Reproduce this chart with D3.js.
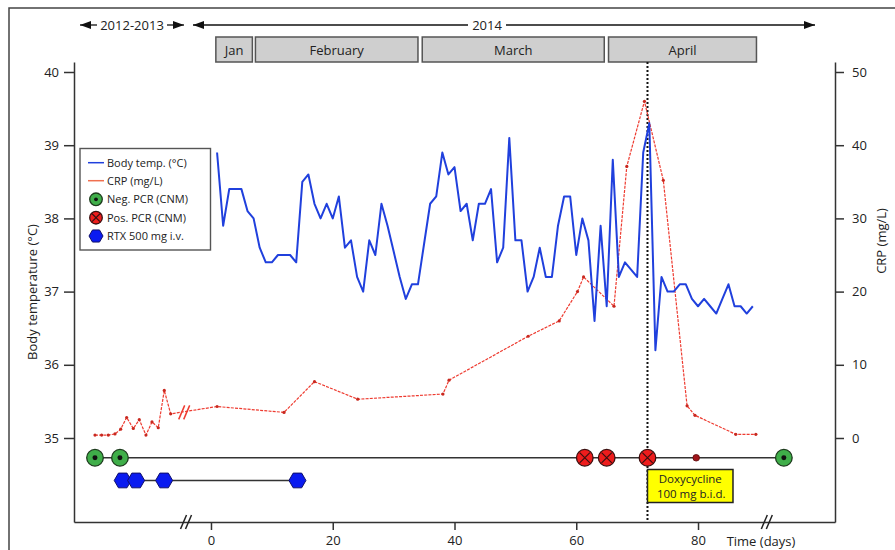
<!DOCTYPE html>
<html>
<head>
<meta charset="utf-8">
<script src="https://cdn.jsdelivr.net/npm/d3@7"></script>
<style>
  body { margin: 0; background: #fff; }
  svg { font-family: "Open Sans", "DejaVu Sans", sans-serif; }
</style>
</head>
<body>
<div id="chart"></div>
<script>
// body temperature, one reading per day (2014)
const tempDays = d3.range(1, 90);
const tempValues = [38.9, 37.9, 38.4, 38.4, 38.4, 38.1, 38.0, 37.6, 37.4, 37.4,
  37.5, 37.5, 37.5, 37.4, 38.5, 38.6, 38.2, 38.0, 38.2, 38.0,
  38.3, 37.6, 37.7, 37.2, 37.0, 37.7, 37.5, 38.2, 37.9, 37.55,
  37.2, 36.9, 37.1, 37.1, 37.65, 38.2, 38.3, 38.9, 38.6, 38.7,
  38.1, 38.2, 37.7, 38.2, 38.2, 38.4, 37.4, 37.6, 39.1, 37.7,
  37.7, 37.0, 37.2, 37.6, 37.2, 37.2, 37.9, 38.3, 38.3, 37.5,
  38.0, 37.7, 36.6, 37.9, 36.8, 38.8, 37.2, 37.4, 37.3, 37.2,
  38.9, 39.3, 36.2, 37.2, 37.0, 37.0, 37.1, 37.1, 36.9, 36.8,
  36.9, 36.8, 36.7, 36.9, 37.1, 36.8, 36.8, 36.7, 36.8];

// CRP (negative days = 2012-2013 samples, before the axis break)
const crpDays = [-19.05, -17.96, -16.87, -15.77, -14.83, -13.85, -12.76, -11.78, -10.68, -9.69, -8.66, -7.67, -6.62,
  1.0, 12.0, 17.0, 24.1, 38.1, 39.1, 52.1, 57.2, 60.2, 61.2, 66.2, 68.3, 71.2, 74.3, 78.2, 79.5, 86.2, 89.5];
const crpValues = [0.4, 0.4, 0.4, 0.55, 1.2, 2.8, 1.3, 2.5, 0.4, 2.2, 1.4, 6.5, 3.3,
  4.3, 3.5, 7.7, 5.3, 6.0, 7.9, 13.9, 16.0, 20.0, 22.0, 18.0, 37.1, 46.0, 35.2, 4.4, 3.1, 0.5, 0.5];

// events
const negPcrDays = [-19.05, -14.95, 94.1];
const posPcrDays = [61.4, 65.0, 71.7];
const smallDotDays = [79.7];
const rtxDays = [-14.5, -12.3, -7.7, 14.2];
const doxyDay = 71.7;

// month bars
const months = ["Jan", "February", "March", "April"];
const monthStart = [0.8, 7.3, 34.7, 65.3];
const monthEnd = [6.8, 34.0, 64.6, 89.6];

const tempTicks = [35, 36, 37, 38, 39, 40];
const crpTicks = [0, 10, 20, 30, 40, 50];
const dayTicks = [0, 20, 40, 60, 80];

const W = 895, H = 550;
const pLeft = 74, pRight = 835, pTop = 62, pBottom = 522;

const svg = d3.select("#chart").append("svg")
  .attr("width", W).attr("height", H);

// outer frame
svg.append("rect").attr("x", 9).attr("y", 8).attr("width", 900).attr("height", 560)
  .attr("fill", "none").attr("stroke", "#444").attr("stroke-width", 1.5);

const x = d3.scaleLinear().domain([-22.5, 102.5]).range([pLeft, pRight]);
const yT = d3.scaleLinear().domain([35 - 84 / 73.2, 40 + 10 / 73.2]).range([pBottom, pTop]);
const yC = d3.scaleLinear().domain([(-84 / 73.2) * 10, (5 + 10 / 73.2) * 10]).range([pBottom, pTop]);

const pcrLevel = 34.73, rtxLevel = 34.42;

// axes
svg.append("g").attr("transform", `translate(${pLeft},0)`)
  .call(d3.axisLeft(yT).tickValues(tempTicks).tickFormat(d3.format("d"))
    .tickSize(10).tickSizeOuter(0).tickPadding(5));
svg.append("g").attr("transform", `translate(${pRight},0)`)
  .call(d3.axisRight(yC).tickValues(crpTicks).tickSize(9).tickSizeOuter(0).tickPadding(8));
svg.append("g").attr("transform", `translate(0,${pBottom})`)
  .call(d3.axisBottom(x).tickValues(dayTicks).tickSize(8).tickSizeOuter(0).tickPadding(6));

svg.selectAll(".domain, .tick line").attr("stroke", "#333").attr("stroke-width", 1.5);
svg.selectAll(".tick text").attr("font-size", 13).attr("fill", "#222")
  .attr("font-family", "'Open Sans', sans-serif");

// axis titles
svg.append("text").attr("transform", `translate(37,292) rotate(-90)`)
  .attr("text-anchor", "middle").attr("font-size", 13).attr("fill", "#222")
  .text("Body temperature (°C)");
svg.append("text").attr("transform", `translate(886,241) rotate(-90)`)
  .attr("text-anchor", "middle").attr("font-size", 13).attr("fill", "#222")
  .text("CRP (mg/L)");
svg.append("text").attr("x", 761).attr("y", 546)
  .attr("text-anchor", "middle").attr("font-size", 13).attr("fill", "#222")
  .text("Time (days)");

// axis break marks
function breakMark(cx, cy, color) {
  [-2.5, 2.5].forEach(o => {
    svg.append("line")
      .attr("x1", cx + o - 3).attr("y1", cy + 7)
      .attr("x2", cx + o + 3).attr("y2", cy - 7)
      .attr("stroke", color).attr("stroke-width", 1.5);
  });
}
breakMark(x(-4.1), pBottom, "#222");
breakMark(x(91.3), pBottom, "#222");

// year arrows
const arrowY = 25;
function arrowHead(px, dir) {
  svg.append("path")
    .attr("d", `M${px},${arrowY} L${px - dir * 11},${arrowY - 4} L${px - dir * 11},${arrowY + 4} Z`)
    .attr("fill", "#111");
}
function hline(x1, x2) {
  svg.append("line").attr("x1", x1).attr("x2", x2).attr("y1", arrowY).attr("y2", arrowY)
    .attr("stroke", "#111").attr("stroke-width", 1.3);
}
hline(80, 97); arrowHead(80, -1);
hline(167, 184); arrowHead(184, 1);
svg.append("text").attr("x", 132).attr("y", arrowY + 5).attr("text-anchor", "middle")
  .attr("font-size", 13).attr("fill", "#222").text("2012-2013");
hline(193, 468); arrowHead(193, -1);
hline(506, 815); arrowHead(815, 1);
svg.append("text").attr("x", 487).attr("y", arrowY + 5).attr("text-anchor", "middle")
  .attr("font-size", 13).attr("fill", "#222").text("2014");

// month boxes
const mg = svg.append("g");
mg.selectAll("rect").data(months).join("rect")
  .attr("x", (d, i) => x(monthStart[i]))
  .attr("width", (d, i) => x(monthEnd[i]) - x(monthStart[i]))
  .attr("y", 37).attr("height", 25)
  .attr("fill", "#cfcfcf").attr("stroke", "#555").attr("stroke-width", 1.5);
mg.selectAll("text").data(months).join("text")
  .attr("x", (d, i) => (x(monthStart[i]) + x(monthEnd[i])) / 2)
  .attr("y", 54.5).attr("text-anchor", "middle")
  .attr("font-size", 13).attr("fill", "#222").text(d => d);

// doxycycline start line
svg.append("line").attr("x1", x(doxyDay)).attr("x2", x(doxyDay))
  .attr("y1", pTop).attr("y2", pBottom)
  .attr("stroke", "#111").attr("stroke-width", 2).attr("stroke-dasharray", "2,2");

// CRP line
const crp = crpDays.map((d, i) => ({day: d, v: crpValues[i]}));
svg.append("path").datum(crp)
  .attr("fill", "none").attr("stroke", "#ee3b30").attr("stroke-width", 1.2)
  .attr("stroke-dasharray", "3,1.2")
  .attr("d", d3.line().x(d => x(d.day)).y(d => yC(d.v)));
svg.selectAll(".crpdot").data(crp).join("circle")
  .attr("cx", d => x(d.day)).attr("cy", d => yC(d.v)).attr("r", 1.6)
  .attr("fill", "#c8281f");
breakMark(x(-4.4), yC(3.5), "#ee3b30");

// temperature line
const temp = tempDays.map((d, i) => ({day: d, v: tempValues[i]}));
svg.append("path").datum(temp)
  .attr("fill", "none").attr("stroke", "#2040dd").attr("stroke-width", 2)
  .attr("stroke-linejoin", "round")
  .attr("d", d3.line().x(d => x(d.day)).y(d => yT(d.v)));

// event rows
svg.append("line").attr("x1", x(d3.min(negPcrDays))).attr("x2", x(d3.max(negPcrDays)))
  .attr("y1", yT(pcrLevel)).attr("y2", yT(pcrLevel))
  .attr("stroke", "#333").attr("stroke-width", 1.5);
svg.append("line").attr("x1", x(d3.min(rtxDays))).attr("x2", x(d3.max(rtxDays)))
  .attr("y1", yT(rtxLevel)).attr("y2", yT(rtxLevel))
  .attr("stroke", "#333").attr("stroke-width", 1.5);

function hexPath(r) {
  return d3.range(6).map(k => {
    const a = Math.PI / 3 * k;
    return [r * Math.cos(a), r * Math.sin(a)];
  }).map((p, k) => (k ? "L" : "M") + p[0].toFixed(2) + "," + p[1].toFixed(2)).join("") + "Z";
}
function negPcr(g, r) {
  g.append("circle").attr("r", r).attr("fill", "#3fae49").attr("stroke", "#1d3a1d").attr("stroke-width", 1.3);
  g.append("circle").attr("r", r * 0.3).attr("fill", "#111");
}
function posPcr(g, r) {
  g.append("circle").attr("r", r).attr("fill", "#ee1c1c").attr("stroke", "#3a1010").attr("stroke-width", 1.3);
  const k = r * 0.62;
  g.append("path").attr("d", `M${-k},${-k}L${k},${k}M${-k},${k}L${k},${-k}`)
    .attr("stroke", "#3a1010").attr("stroke-width", 1.2);
}
function rtx(g, r) {
  g.append("path").attr("d", hexPath(r)).attr("fill", "#0a1bf0")
    .attr("stroke", "#10106a").attr("stroke-width", 1);
}

negPcrDays.forEach(d => negPcr(svg.append("g").attr("transform", `translate(${x(d)},${yT(pcrLevel)})`), 8.3));
posPcrDays.forEach(d => posPcr(svg.append("g").attr("transform", `translate(${x(d)},${yT(pcrLevel)})`), 8.3));
smallDotDays.forEach(d => svg.append("circle").attr("cx", x(d)).attr("cy", yT(pcrLevel)).attr("r", 3.3)
  .attr("fill", "#a0141a").attr("stroke", "#5a0a0a").attr("stroke-width", 0.8));
rtxDays.forEach(d => rtx(svg.append("g").attr("transform", `translate(${x(d)},${yT(rtxLevel)})`), 8.5));

// doxycycline label
const bx = x(doxyDay), bw = 85.5, by = 469.5, bh = 33;
svg.append("rect").attr("x", bx).attr("y", by).attr("width", bw).attr("height", bh)
  .attr("fill", "#ffff00").attr("stroke", "#222").attr("stroke-width", 1.5);
svg.append("text").attr("x", bx + bw / 2).attr("y", by + 13).attr("text-anchor", "middle")
  .attr("font-size", 11.5).attr("fill", "#222").text("Doxycycline");
svg.append("text").attr("x", bx + bw / 2 + 1).attr("y", by + 28.5).attr("text-anchor", "middle")
  .attr("font-size", 11.5).attr("fill", "#222").text("100 mg b.i.d.");

// legend
const lg = svg.append("g");
lg.append("rect").attr("x", 80).attr("y", 148.5).attr("width", 130.5).attr("height", 101.5)
  .attr("fill", "#fff").attr("stroke", "#555").attr("stroke-width", 1.4);
const legendLabels = ["Body temp. (°C)", "CRP (mg/L)", "Neg. PCR (CNM)", "Pos. PCR (CNM)", "RTX 500 mg i.v."];
const legendY = [162.7, 180.7, 199.3, 217.7, 236];
legendLabels.forEach((t, i) => {
  lg.append("text").attr("x", 107).attr("y", legendY[i] + 4)
    .attr("font-size", 11).attr("fill", "#222").text(t);
});
lg.append("line").attr("x1", 88).attr("x2", 104).attr("y1", legendY[0]).attr("y2", legendY[0])
  .attr("stroke", "#2040dd").attr("stroke-width", 1.5);
lg.append("line").attr("x1", 88).attr("x2", 104).attr("y1", legendY[1]).attr("y2", legendY[1])
  .attr("stroke", "#f07050").attr("stroke-width", 1.5);
negPcr(lg.append("g").attr("transform", `translate(96,${legendY[2]})`), 6.3);
posPcr(lg.append("g").attr("transform", `translate(96,${legendY[3]})`), 6.3);
rtx(lg.append("g").attr("transform", `translate(96,${legendY[4]})`), 7);
</script>
</body>
</html>
